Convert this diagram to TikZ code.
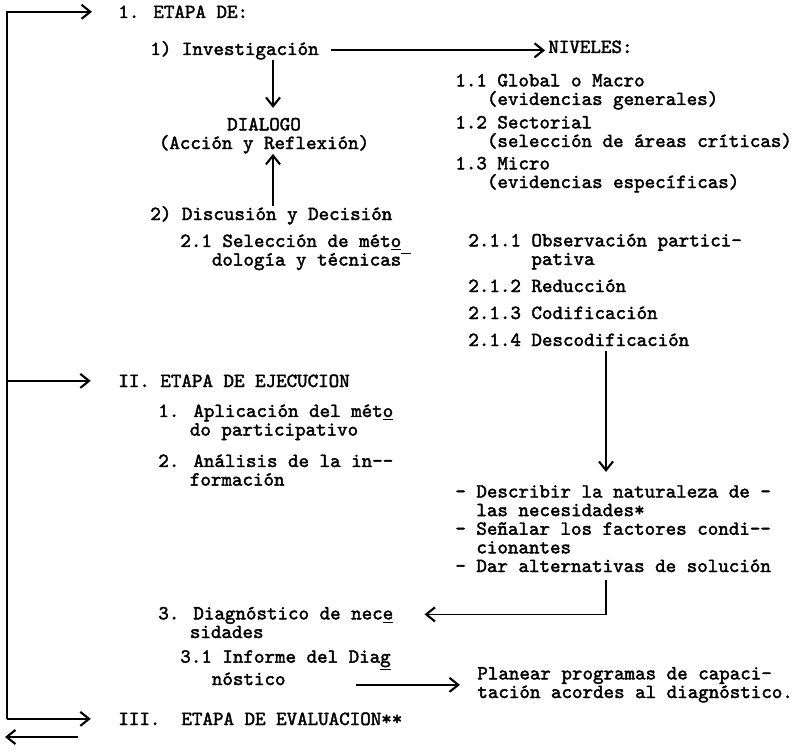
\documentclass[tikz,border=0pt]{standalone}
\usepackage{fontspec}
\usepackage{tikz}
\usetikzlibrary{arrows.meta,calc}

\newfontfamily\maquina{lmmono10-regular.otf}[FakeBold=2]
\newcommand{\sang}[1]{\hspace*{#1\dimexpr 0.525em\relax}}

\begin{document}
\begin{tikzpicture}[scale=0.2,
    txt/.style={anchor=base west, align=left},
    flecha/.style={line width=1pt, -{Straight Barb[length=5pt,width=8pt,line width=1.2pt]}}]
        \tikzstyle{every node}+=[inner sep=0pt, font=\maquina\fontsize{11.4}{10.6}\selectfont]
        \useasboundingbox (0,0) rectangle (79.4,-75.3);
        % etapas
        \node[txt] (e1) at (11.8,-1.8) {1. ETAPA DE:};
        \node[txt] (e2) at (11.8,-38.7) {II. ETAPA DE EJECUCION};
        \node[txt] (e3) at (11.8,-72.5) {III.\ \ ETAPA DE EVALUACION**};
        % etapa 1 (y = linea de base de la ultima linea)
        \node[txt] (inv) at (15.0,-5.5) {1) Investigación};
        \node[anchor=base, align=center] (dial) at (26.4,-14.9) {DIALOGO\\(Acción y Reflexión)};
        \node[txt] (dis) at (15.0,-22.0) {2) Discusión y Decisión};
        \node[txt] (sel) at (18.0,-26.56) {2.1 Selección de mét\underline{o}\\\sang{3}dología y técnicas\rlap{\raisebox{0.6em}{\rule{0.5em}{0.6pt}}}};
        \node[txt] (niv) at (54.8,-5.3) {NIVELES:};
        \node[txt] (g11) at (45.5,-10.5) {1.1 Global o Macro\\\sang{3}(evidencias generales)};
        \node[txt] (g12) at (45.5,-14.7) {1.2 Sectorial\\\sang{3}(selección de áreas críticas)};
        \node[txt] (g13) at (45.5,-18.8) {1.3 Micro\\\sang{3}(evidencias específicas)};
        \node[txt] (o211) at (46.8,-26.5) {2.1.1 Observación partici-\\\sang{6}pativa};
        \node[txt] (o212) at (46.8,-29.2) {2.1.2 Reducción};
        \node[txt] (o213) at (46.8,-31.9) {2.1.3 Codificación};
        \node[txt] (o214) at (46.8,-34.6) {2.1.4 Descodificación};
        % etapa 2
        \node[txt] (ap) at (15.8,-43.56) {1. Aplicación del mét\underline{o}\\\sang{3}do participativo};
        \node[txt] (an) at (15.8,-48.56) {2. Análisis de la in--\\\sang{3}formación};
        \node[txt] (nec) at (45.5,-57.2) {- Describir la naturaleza de -\\\sang{2}las necesidades*\\- Señalar los factores condi--\\\sang{2}cionantes\\- Dar alternativas de solución};
        \node[txt] (diag) at (15.8,-63.8) {3. Diagnóstico de nec\underline{e}\\\sang{3}sidades};
        \node[txt] (inf) at (18.0,-68.5) {3.1 Informe del Dia\underline{g}\\\sang{3}nóstico};
        \node[txt] (plan) at (47.7,-69.8) {Planear programas de capaci-\\tación acordes al diagnóstico.};
        % flechas de la izquierda
        \coordinate (izq) at (0.7,0);
        \draw[flecha, shorten >=14.8pt] (izq |- e3.west) -- (izq |- e1.west) -- (e1.west);
        \draw[flecha, shorten >=15.5pt] (izq |- e2.west) -- (e2.west);
        \draw[flecha, shorten >=15.5pt] (izq |- e3.west) -- (e3.west);
        \coordinate (sal) at (7.8,-73.7);
        \coordinate (ret) at (0.5,-73.7);
        \draw[flecha] (sal) -- (ret);
        % flechas del centro
        \coordinate (eje) at (27.3,0);
        \draw[flecha, shorten >=5.5pt] (inv.south -| eje) -- (dial.north -| eje);
        \draw[flecha] (dis.north -| eje) -- (dial.south -| eje);
        \draw[flecha, shorten <=7pt, shorten >=1.7pt] (inv.east) -- (inv.east -| niv.west);
        \coordinate (ejeb) at (60.6,0);
        \draw[flecha, shorten <=2.3pt, shorten >=7.4pt] (o214.south -| ejeb) -- (nec.north -| ejeb);
        \draw[flecha, shorten <=4pt, shorten >=17.6pt] (nec.south -| ejeb) |- ($(diag.base east)+(0,2.36)$);
        \coordinate (infd) at ($(inf.south east)+(-3.5,0)$);
        \draw[flecha, shorten >=9.7pt] (infd |- plan.west) -- (plan.west);
\end{tikzpicture}
\end{document}
